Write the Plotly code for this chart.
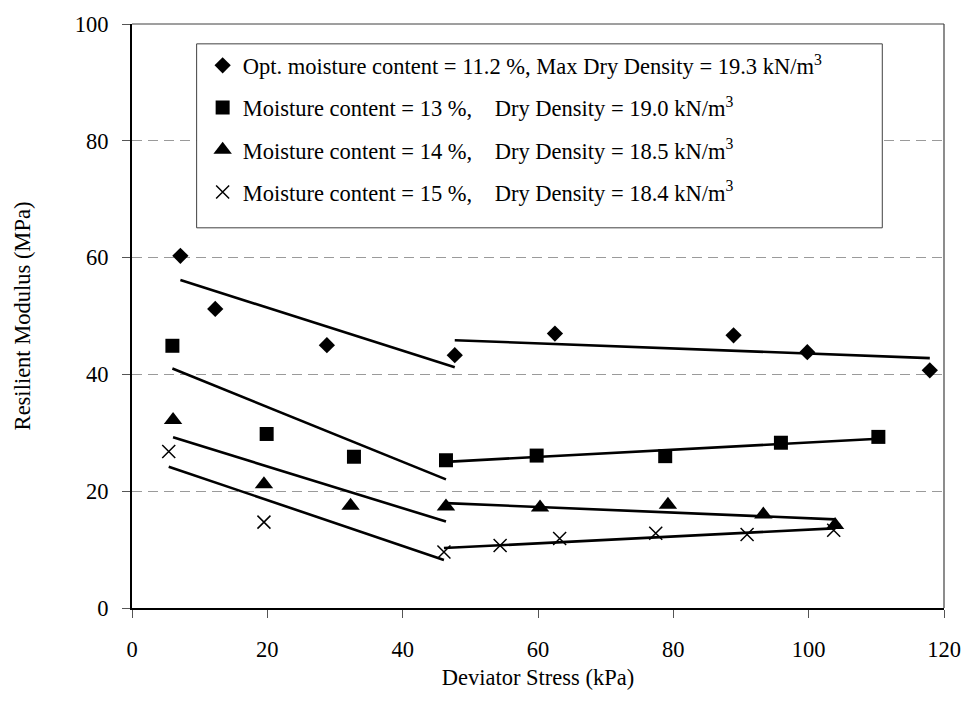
import numpy as np
import plotly.graph_objects as go

# ---- data ----
stress_opt = [7.15, 12.3, 28.8, 47.7, 62.5, 88.9, 99.8, 117.9]
mr_opt = [60.3, 51.2, 45.0, 43.3, 47.0, 46.7, 43.8, 40.7]

stress_13 = [5.97, 19.9, 32.8, 46.4, 59.8, 78.8, 95.9, 110.3]
mr_13 = [44.9, 29.8, 25.9, 25.3, 26.1, 26.0, 28.3, 29.3]

stress_14 = [6.07, 19.5, 32.3, 46.4, 60.3, 79.2, 93.3, 103.9]
mr_14 = [32.2, 21.2, 17.5, 17.4, 17.2, 17.7, 16.0, 14.2]

stress_15 = [5.43, 19.5, 46.1, 54.4, 63.2, 77.4, 90.9, 103.7]
mr_15 = [26.8, 14.7, 9.6, 10.7, 11.9, 12.8, 12.6, 13.3]

# index of the point shared by the two fitted segments
break_idx = [3, 3, 3, 2]

NB = "\u00a0"
series_names = [
    "Opt. moisture content = 11.2 %, Max Dry Density = 19.3 kN/m<sup>3</sup>",
    "Moisture content = 13 %," + NB * 4 + "Dry Density = 19.0 kN/m<sup>3</sup>",
    "Moisture content = 14 %," + NB * 4 + "Dry Density = 18.5 kN/m<sup>3</sup>",
    "Moisture content = 15 %," + NB * 4 + "Dry Density = 18.4 kN/m<sup>3</sup>",
]

x_ticks = [0, 20, 40, 60, 80, 100, 120]
y_ticks = [0, 20, 40, 60, 80, 100]

# ---- styles ----
FONT = "Liberation Serif"
FS = 22.5
markers = [
    dict(symbol="diamond", size=12.5, color="black"),
    dict(symbol="square", size=14, color="black"),
    dict(symbol="triangle-up", size=16, color="black"),
    dict(symbol="x-thin", size=13, color="black", line=dict(color="black", width=1.5)),
]

all_x = [stress_opt, stress_13, stress_14, stress_15]
all_y = [mr_opt, mr_13, mr_14, mr_15]

fig = go.Figure()

# trend lines (least-squares fit on each segment)
for xs, ys, b in zip(all_x, all_y, break_idx):
    xs = np.array(xs)
    ys = np.array(ys)
    for seg in (slice(0, b + 1), slice(b, None)):
        sx, sy = xs[seg], ys[seg]
        k, c = np.polyfit(sx, sy, 1)
        lx = np.array([sx.min(), sx.max()])
        fig.add_trace(go.Scatter(
            x=lx, y=k * lx + c, mode="lines",
            line=dict(color="black", width=2.6),
            showlegend=False, hoverinfo="skip",
        ))

for i, (xs, ys, name, mk) in enumerate(zip(all_x, all_y, series_names, markers)):
    fig.add_trace(go.Scatter(
        x=xs, y=ys, mode="markers", name=name, marker=mk,
        legendgroup=f"g{i}",
    ))

# legend box and plot frame
fig.add_shape(type="rect", xref="paper", yref="paper",
              x0=0.0796, x1=0.924, y0=0.651, y1=0.966,
              line=dict(color="#404040", width=1), fillcolor="white", layer="above")
fig.add_shape(type="line", xref="paper", yref="paper", x0=0, x1=1, y0=1, y1=1,
              line=dict(color="#404040", width=1.2), layer="above")
fig.add_shape(type="line", xref="paper", yref="paper", x0=1, x1=1, y0=0, y1=1,
              line=dict(color="#404040", width=1.2), layer="above")

fig.update_layout(
    width=973, height=720,
    margin=dict(l=132, r=24, t=21, b=112),
    paper_bgcolor="white", plot_bgcolor="white",
    font=dict(family=FONT, size=FS, color="black"),
    showlegend=True,
    legend=dict(
        x=0.087, y=0.9655, xanchor="left", yanchor="top",
        bgcolor="rgba(0,0,0,0)", borderwidth=0,
        font=dict(family=FONT, size=FS, color="black"),
        tracegroupgap=10, traceorder="grouped",
    ),
    xaxis=dict(
        range=[0, 120], tickmode="array", tickvals=x_ticks,
        ticks="outside", ticklen=8, tickcolor="#555", tickwidth=1,
        showline=True, linecolor="black", linewidth=2,
        showgrid=False, zeroline=False,
        ticklabelstandoff=12,
        tickfont=dict(family=FONT, size=FS, color="black"),
        title=dict(text="Deviator Stress (kPa)", standoff=8,
                   font=dict(family=FONT, size=FS, color="black")),
    ),
    yaxis=dict(
        range=[0, 100], tickmode="array", tickvals=y_ticks,
        ticks="outside", ticklen=8, tickcolor="#555", tickwidth=1,
        showline=True, linecolor="black", linewidth=2,
        showgrid=True, gridcolor="#9a9a9a", gridwidth=1, griddash="10px,6px",
        zeroline=False,
        ticklabelstandoff=9,
        tickfont=dict(family=FONT, size=FS, color="black"),
        title=dict(text="Resilient Modulus (MPa)", standoff=38,
                   font=dict(family=FONT, size=FS, color="black")),
    ),
)

fig.write_html("out.html")
